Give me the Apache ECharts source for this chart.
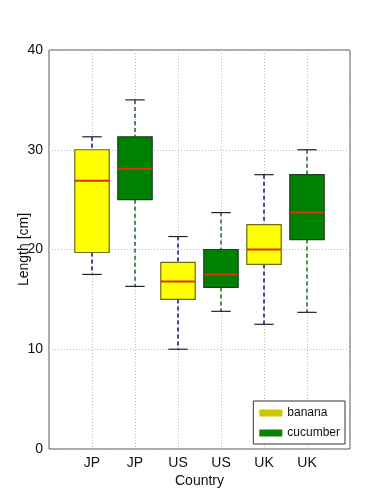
<!DOCTYPE html>
<html><head><meta charset="utf-8">
<script src="https://cdn.jsdelivr.net/npm/echarts@6/dist/echarts.min.js"></script>
<style>html,body{margin:0;padding:0;background:#fff}#c{width:389px;height:500px}</style>
</head><body><div id="c"></div>
<script>
const categories = ['JP','JP','US','US','UK','UK'];
const fruit = ['banana','cucumber','banana','cucumber','banana','cucumber'];
const lowWhisker = [17.5,16.3,10.0,13.8,12.5,13.7];
const q1 = [19.7,25.0,15.0,16.2,18.5,21.0];
const median = [26.9,28.1,16.8,17.5,20.0,23.7];
const q3 = [30.0,31.3,18.7,20.0,22.5,27.5];
const highWhisker = [31.3,35.0,21.3,23.7,27.5,30.0];
const yTicks = [0,10,20,30,40];

const style = {
  banana: {fill:'#FFFF00', edge:'#6b6b10', whisker:'#1a1aa0', legend:'#C8C800'},
  cucumber: {fill:'#008000', edge:'#1f3f1f', whisker:'#2f6f2f', legend:'#0a800a'}
};

function seriesData(name){
  const out=[];
  categories.forEach((c,i)=>{ if(fruit[i]===name) out.push([i+1,lowWhisker[i],q1[i],median[i],q3[i],highWhisker[i]]); });
  return out;
}

function makeRender(name){
  const s = style[name];
  return function(params, api){
    const x = api.value(0);
    const lo=api.value(1), a=api.value(2), m=api.value(3), b=api.value(4), hi=api.value(5);
    const bw = api.size([0.8,0])[0];
    const cw = api.size([0.45,0])[0];
    const pLo = api.coord([x,lo]), pA=api.coord([x,a]), pM=api.coord([x,m]), pB=api.coord([x,b]), pHi=api.coord([x,hi]);
    const cx = pLo[0];
    const dash = {stroke:s.whisker, lineWidth:1.6, lineDash:[4,3]};
    return {type:'group', children:[
      {type:'line', shape:{x1:cx,y1:pHi[1],x2:cx,y2:pB[1]}, style:dash},
      {type:'line', shape:{x1:cx,y1:pA[1],x2:cx,y2:pLo[1]}, style:dash},
      {type:'line', shape:{x1:cx-cw/2,y1:pHi[1],x2:cx+cw/2,y2:pHi[1]}, style:{stroke:'#222',lineWidth:1.2}},
      {type:'line', shape:{x1:cx-cw/2,y1:pLo[1],x2:cx+cw/2,y2:pLo[1]}, style:{stroke:'#222',lineWidth:1.2}},
      {type:'rect', shape:{x:cx-bw/2,y:pB[1],width:bw,height:pA[1]-pB[1]}, style:{fill:s.fill,stroke:s.edge,lineWidth:1.2}},
      {type:'line', shape:{x1:cx-bw/2,y1:pM[1],x2:cx+bw/2,y2:pM[1]}, style:{stroke:'#E03010',lineWidth:2}}
    ]};
  };
}

const chart = echarts.init(document.getElementById('c'), null, {renderer:'canvas'});
const font = 'Liberation Sans, Arial, sans-serif';
chart.setOption({
  animation:false,
  backgroundColor:'#fff',
  grid:{left:49,right:39,top:50,bottom:51,containLabel:false,outerBoundsMode:'none',show:true,borderColor:'#555',borderWidth:1,backgroundColor:'transparent'},
  xAxis:{type:'value',min:0,max:7,interval:1,
    name:'Country',nameLocation:'middle',nameGap:25,nameMoveOverlap:false,nameTextStyle:{fontFamily:font,fontSize:14,color:'#111'},
    axisLine:{show:false},axisTick:{show:false},
    axisLabel:{fontFamily:font,fontSize:14,color:'#111',margin:7,formatter:v=>categories[v-1]||''},
    splitLine:{show:true,lineStyle:{color:'#bbb',type:[1,2],width:1}}},
  yAxis:{type:'value',min:yTicks[0],max:yTicks[yTicks.length-1],interval:10,
    name:'Length [cm]',nameLocation:'middle',nameGap:18,nameMoveOverlap:false,nameTextStyle:{fontFamily:font,fontSize:14,color:'#111'},
    axisLine:{show:false},axisTick:{show:false},
    axisLabel:{fontFamily:font,fontSize:14,color:'#111',margin:6},
    splitLine:{show:true,lineStyle:{color:'#bbb',type:[1,2],width:1}}},
  legend:{orient:'vertical',right:44,bottom:56,data:['banana','cucumber'],
    icon:'rect',itemWidth:23,itemHeight:7,itemGap:8,
    padding:[6,5,5,6],borderColor:'#333',borderWidth:1,backgroundColor:'#fff',borderRadius:0,
    textStyle:{fontFamily:font,fontSize:12,color:'#111'}},
  series:['banana','cucumber'].map(n=>({
    name:n,type:'custom',renderItem:makeRender(n),
    itemStyle:{color:style[n].legend},
    encode:{x:0,y:[1,2,3,4,5]},
    data:seriesData(n)
  }))
});
</script></body></html>
